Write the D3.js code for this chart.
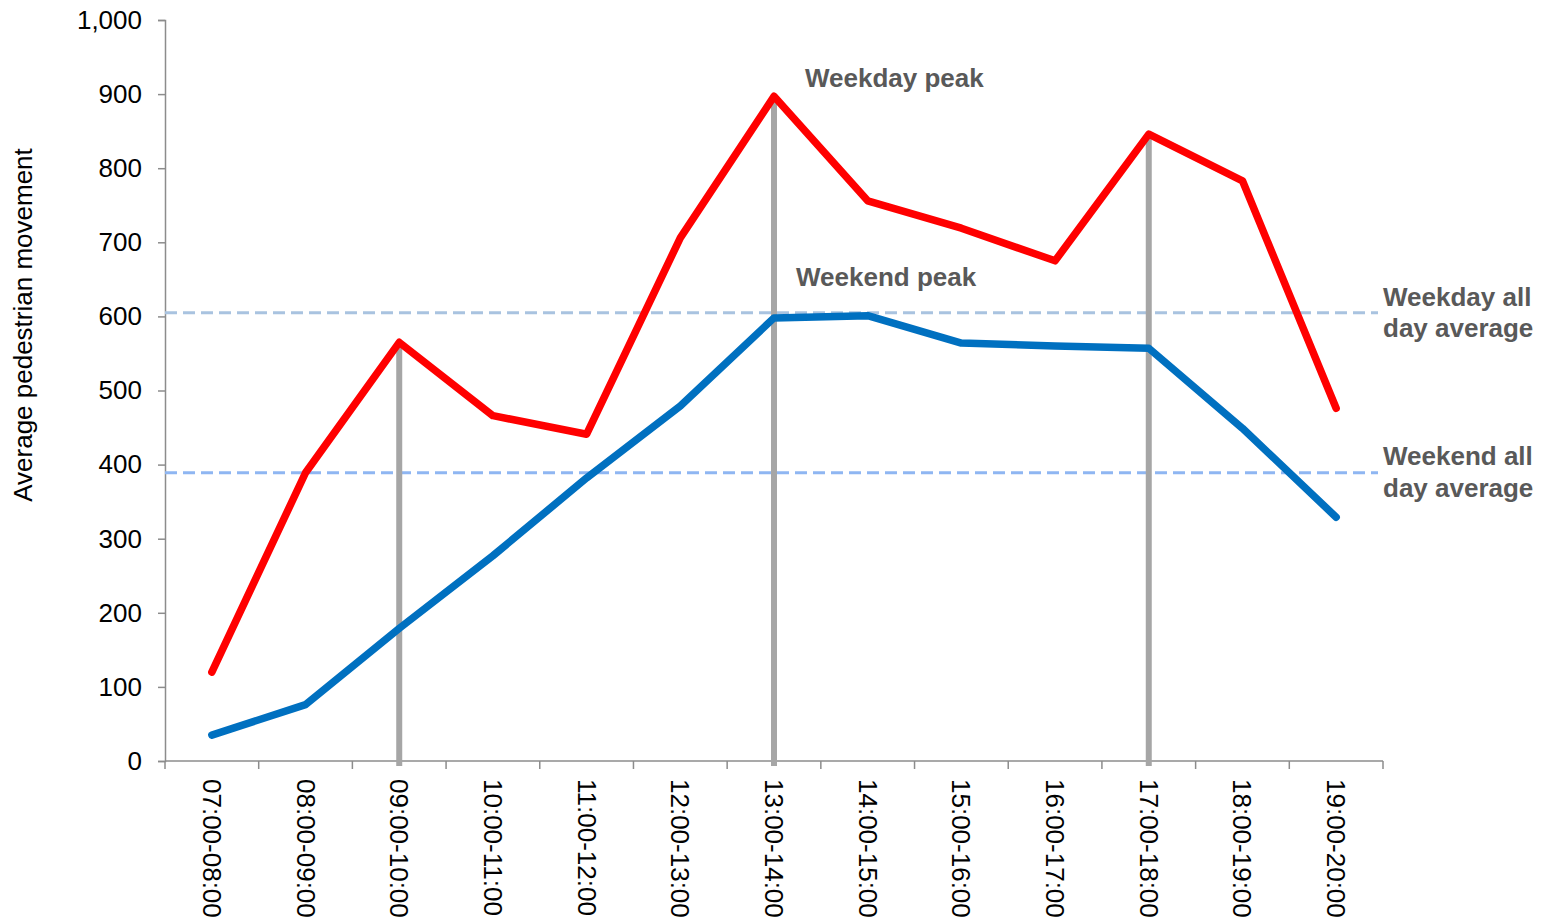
<!DOCTYPE html>
<html>
<head>
<meta charset="utf-8">
<script src="https://cdn.jsdelivr.net/npm/d3@7"></script>
<style>
  html, body { margin: 0; padding: 0; background: #fff; }
  svg { display: block; font-family: "Liberation Sans", Arial, sans-serif; }
</style>
</head>
<body>
<svg id="chart" width="1541" height="923"></svg>
<script>
// Hourly intervals
const categories = ["07:00-08:00","08:00-09:00","09:00-10:00","10:00-11:00","11:00-12:00","12:00-13:00",
  "13:00-14:00","14:00-15:00","15:00-16:00","16:00-17:00","17:00-18:00","18:00-19:00","19:00-20:00"];
// Average pedestrian movement per interval
const weekday = [120, 389, 565, 466, 441, 706, 897, 756, 719, 675, 846, 783, 476];
const weekend = [35, 76, 179, 277, 382, 479, 598, 601, 564, 560, 557, 449, 329];
// All-day averages
const weekdayAverage = 605;
const weekendAverage = 389;
// Intervals marked with a vertical drop line
const peakIntervals = ["09:00-10:00", "13:00-14:00", "17:00-18:00"];
const yTicks = [0, 100, 200, 300, 400, 500, 600, 700, 800, 900, 1000];

const svg = d3.select("#chart");
const plotLeft = 165, plotRight = 1383, plotTop = 20, plotBottom = 761;
const fontSize = 26;

const x = d3.scaleBand().domain(categories).range([plotLeft, plotRight]);
const y = d3.scaleLinear().domain([0, 1000]).range([plotBottom, plotTop]);
const cx = c => x(c) + x.bandwidth() / 2;
const axisColor = "#8c8c8c";

// Y axis
const yAxis = svg.append("g").attr("transform", `translate(${plotLeft},0)`)
  .call(d3.axisLeft(y).tickValues(yTicks).tickSize(7).tickPadding(16).tickFormat(d3.format(",")));
yAxis.select(".domain").attr("stroke", axisColor).attr("stroke-width", 1.5);
yAxis.selectAll(".tick line").attr("stroke", axisColor).attr("stroke-width", 1.5);
yAxis.selectAll(".tick text").attr("font-size", fontSize).attr("fill", "#000")
  .attr("font-family", "Liberation Sans, Arial, sans-serif");

// X axis: ticks at band boundaries
const xg = svg.append("g");
xg.append("line").attr("x1", plotLeft).attr("x2", plotRight).attr("y1", plotBottom).attr("y2", plotBottom)
  .attr("stroke", axisColor).attr("stroke-width", 1.5);
const boundaries = categories.map(c => x(c)).concat([plotRight]);
xg.selectAll("line.tk").data(boundaries).enter().append("line")
  .attr("x1", d => d).attr("x2", d => d).attr("y1", plotBottom).attr("y2", plotBottom + 8)
  .attr("stroke", axisColor).attr("stroke-width", 1.5);
xg.selectAll("text").data(categories).enter().append("text")
  .attr("transform", d => `translate(${cx(d) - 9},${plotBottom + 18}) rotate(90)`)
  .attr("font-size", fontSize).attr("fill", "#000").text(d => d);

// Y axis title
svg.append("text")
  .attr("transform", `translate(32,325) rotate(-90)`)
  .attr("text-anchor", "middle").attr("font-size", fontSize).attr("fill", "#000")
  .text("Average pedestrian movement");

// All-day average lines
svg.append("line").attr("x1", plotLeft).attr("x2", plotRight - 5)
  .attr("y1", y(weekdayAverage)).attr("y2", y(weekdayAverage))
  .attr("stroke", "#a9c3e0").attr("stroke-width", 3).attr("stroke-dasharray", "12,6");
svg.append("line").attr("x1", plotLeft).attr("x2", plotRight - 5)
  .attr("y1", y(weekendAverage)).attr("y2", y(weekendAverage))
  .attr("stroke", "#8fb6f2").attr("stroke-width", 3).attr("stroke-dasharray", "12,6");

// Drop lines at peak intervals
svg.selectAll("line.drop").data(peakIntervals).enter().append("line")
  .attr("x1", d => cx(d)).attr("x2", d => cx(d))
  .attr("y1", plotBottom + 5).attr("y2", d => y(weekday[categories.indexOf(d)]))
  .attr("stroke", "#a6a6a6").attr("stroke-width", 6);

// Series lines
const line = d3.line().x((d, i) => cx(categories[i])).y(d => y(d));
svg.append("path").datum(weekend).attr("d", line).attr("fill", "none")
  .attr("stroke", "#0070c0").attr("stroke-width", 7.5)
  .attr("stroke-linejoin", "round").attr("stroke-linecap", "round");
svg.append("path").datum(weekday).attr("d", line).attr("fill", "none")
  .attr("stroke", "#ff0000").attr("stroke-width", 7.5)
  .attr("stroke-linejoin", "round").attr("stroke-linecap", "round");

// Annotations
const note = (tx, ty, s) => svg.append("text").attr("x", tx).attr("y", ty)
  .attr("font-size", fontSize).attr("font-weight", "bold").attr("fill", "#595959").text(s);
note(cx("13:00-14:00") + 31, 87, "Weekday peak");
note(cx("13:00-14:00") + 22, 286, "Weekend peak");
note(1383, 306, "Weekday all");
note(1383, 337, "day average");
note(1383, 465, "Weekend all");
note(1383, 497, "day average");
</script>
</body>
</html>
